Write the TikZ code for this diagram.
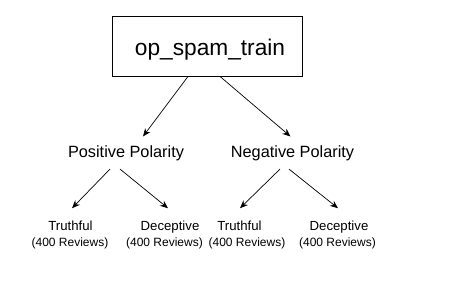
\documentclass[tikz,border=0pt]{standalone}
\usepackage{fontspec}
\setmainfont{Liberation Sans}
\usepackage{tikz}
\usetikzlibrary{arrows.meta}
\tikzset{
  rootbox/.style={draw,line width=0.9pt,minimum width=190pt,minimum height=60pt,inner sep=0pt,font=\fontsize{22.7}{26}\selectfont},
  polarity/.style={anchor=base,inner xsep=0pt,inner ysep=8.5pt,font=\fontsize{16.3}{19}\selectfont},
  leaf/.style={anchor=base,inner xsep=0pt,inner ysep=12pt,font=\fontsize{13.2}{16}\selectfont},
  count/.style={anchor=base,inner sep=0pt,font=\fontsize{12}{14}\selectfont},
  edge/.style={-{Stealth[length=8pt,width=6.5pt]},line width=0.7pt},
}

\begin{document}
\begin{tikzpicture}[x=1pt,y=-1pt]
        \useasboundingbox (0,0) rectangle (466,281);
        \node [rootbox] (root) at (207,46) {};
        \node [anchor=base,inner sep=0pt,font=\fontsize{22.7}{26}\selectfont] (title) at (210,55) {op\_spam\_train};
        \node [polarity] (pos) at (126,157) {Positive Polarity};
        \node [polarity] (neg) at (292.5,157) {Negative Polarity};
        % leaves
        \node [leaf] (pt) at (70.5,230) {Truthful};
        \node [leaf] (pd) at (170,230) {Deceptive};
        \node [leaf] (nt) at (239.5,230) {Truthful};
        \node [leaf] (nd) at (339,230) {Deceptive};
        \node [count] (ptc) at (70,246.5) {(400 Reviews)};
        \node [count] (pdc) at (164.5,246.5) {(400 Reviews)};
        \node [count] (ntc) at (247,246.5) {(400 Reviews)};
        \node [count] (ndc) at (337.5,246.5) {(400 Reviews)};
        % arrows
        \draw [edge] ([xshift=-19pt]root.south)--([xshift=17pt]pos.north);
        \draw [edge] ([xshift=13pt]root.south)--([xshift=-2pt]neg.north);
        \draw [edge] ([xshift=-16pt]pos.south)--([xshift=1.5pt]pt.north);
        \draw [edge] ([xshift=-6pt]pos.south)--([xshift=-2pt]pd.north);
        \draw [edge] ([xshift=-12.5pt]neg.south)--([xshift=0.5pt]nt.north);
        \draw [edge] ([xshift=-3.5pt]neg.south)--([xshift=-1pt]nd.north);
\end{tikzpicture}
\end{document}
